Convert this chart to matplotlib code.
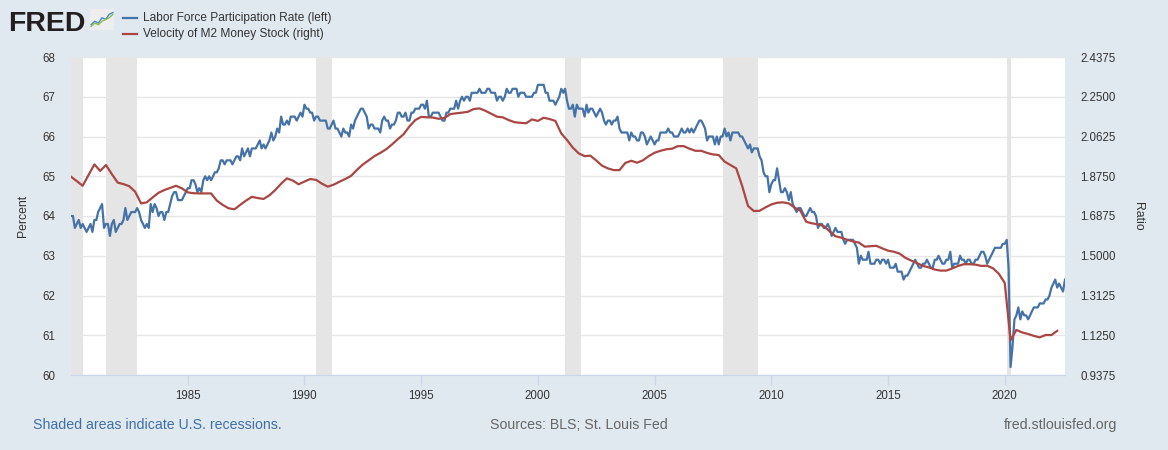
import matplotlib
matplotlib.use('Agg')
import matplotlib.pyplot as plt
import matplotlib.dates as mdates
import pandas as pd

plt.rcParams['font.family'] = ['Liberation Sans', 'DejaVu Sans']

# Labor Force Participation Rate, monthly, 1980-01 .. 2022-08 (percent)
lfpr = [
    64.0, 64.0, 63.7, 63.8, 63.9, 63.7, 63.8, 63.7, 63.6, 63.7, 63.8, 63.6,  # 1980
    63.9, 63.9, 64.1, 64.2, 64.3, 63.7, 63.8, 63.8, 63.5, 63.8, 63.9, 63.6,  # 1981
    63.7, 63.8, 63.8, 63.9, 64.2, 63.9, 64.0, 64.1, 64.1, 64.1, 64.2, 64.1,  # 1982
    63.9, 63.8, 63.7, 63.8, 63.7, 64.3, 64.1, 64.3, 64.2, 64.0, 64.1, 64.1,  # 1983
    63.9, 64.1, 64.1, 64.3, 64.5, 64.6, 64.6, 64.4, 64.4, 64.4, 64.5, 64.6,  # 1984
    64.7, 64.7, 64.9, 64.9, 64.8, 64.6, 64.7, 64.6, 64.9, 65.0, 64.9, 65.0,  # 1985
    64.9, 65.0, 65.1, 65.1, 65.2, 65.4, 65.4, 65.3, 65.4, 65.4, 65.4, 65.3,  # 1986
    65.4, 65.5, 65.5, 65.4, 65.7, 65.5, 65.6, 65.7, 65.5, 65.7, 65.7, 65.7,  # 1987
    65.8, 65.9, 65.7, 65.8, 65.7, 65.8, 65.9, 66.1, 65.9, 66.0, 66.2, 66.1,  # 1988
    66.5, 66.3, 66.3, 66.4, 66.3, 66.5, 66.5, 66.5, 66.4, 66.5, 66.6, 66.5,  # 1989
    66.8, 66.7, 66.7, 66.6, 66.6, 66.4, 66.5, 66.5, 66.4, 66.4, 66.4, 66.4,  # 1990
    66.2, 66.2, 66.3, 66.4, 66.2, 66.2, 66.1, 66.0, 66.2, 66.1, 66.1, 66.0,  # 1991
    66.3, 66.2, 66.4, 66.5, 66.6, 66.7, 66.7, 66.6, 66.5, 66.2, 66.3, 66.3,  # 1992
    66.2, 66.2, 66.2, 66.1, 66.4, 66.5, 66.4, 66.4, 66.2, 66.3, 66.3, 66.4,  # 1993
    66.6, 66.6, 66.5, 66.5, 66.6, 66.4, 66.4, 66.6, 66.6, 66.7, 66.7, 66.7,  # 1994
    66.8, 66.8, 66.7, 66.9, 66.5, 66.5, 66.6, 66.6, 66.6, 66.6, 66.5, 66.4,  # 1995
    66.4, 66.6, 66.6, 66.7, 66.7, 66.7, 66.9, 66.7, 66.9, 67.0, 66.9, 67.0,  # 1996
    67.0, 66.9, 67.1, 67.1, 67.1, 67.1, 67.2, 67.1, 67.1, 67.1, 67.2, 67.2,  # 1997
    67.1, 67.1, 67.1, 66.9, 67.0, 67.0, 66.9, 67.0, 67.2, 67.1, 67.1, 67.2,  # 1998
    67.2, 67.2, 67.0, 67.1, 67.1, 67.1, 67.0, 67.0, 67.0, 67.0, 67.1, 67.1,  # 1999
    67.3, 67.3, 67.3, 67.3, 67.1, 67.1, 66.9, 66.9, 66.9, 66.8, 66.9, 67.0,  # 2000
    67.2, 67.1, 67.2, 66.9, 66.7, 66.7, 66.8, 66.5, 66.8, 66.7, 66.7, 66.7,  # 2001
    66.5, 66.8, 66.6, 66.7, 66.7, 66.6, 66.5, 66.6, 66.7, 66.6, 66.4, 66.3,  # 2002
    66.4, 66.4, 66.3, 66.4, 66.4, 66.5, 66.2, 66.1, 66.1, 66.1, 66.1, 65.9,  # 2003
    66.1, 66.0, 66.0, 65.9, 65.9, 66.1, 66.1, 66.0, 65.8, 65.9, 66.0, 65.9,  # 2004
    65.8, 65.9, 65.9, 66.1, 66.1, 66.1, 66.1, 66.2, 66.1, 66.1, 66.0, 66.0,  # 2005
    66.0, 66.1, 66.2, 66.1, 66.1, 66.2, 66.1, 66.2, 66.1, 66.2, 66.3, 66.4,  # 2006
    66.4, 66.3, 66.2, 65.9, 66.0, 66.0, 66.0, 65.8, 66.0, 65.8, 66.0, 66.0,  # 2007
    66.2, 66.0, 66.1, 65.9, 66.1, 66.1, 66.1, 66.1, 66.0, 66.0, 65.9, 65.8,  # 2008
    65.7, 65.8, 65.6, 65.7, 65.7, 65.7, 65.5, 65.4, 65.1, 65.0, 65.0, 64.6,  # 2009
    64.8, 64.9, 64.9, 65.2, 64.9, 64.6, 64.6, 64.7, 64.6, 64.4, 64.6, 64.3,  # 2010
    64.2, 64.1, 64.2, 64.2, 64.1, 64.0, 64.0, 64.1, 64.2, 64.1, 64.1, 64.0,  # 2011
    63.7, 63.8, 63.8, 63.7, 63.7, 63.8, 63.7, 63.5, 63.6, 63.7, 63.6, 63.6,  # 2012
    63.6, 63.4, 63.3, 63.4, 63.4, 63.4, 63.4, 63.3, 63.2, 62.8, 63.0, 62.9,  # 2013
    62.9, 62.9, 63.1, 62.8, 62.8, 62.8, 62.9, 62.9, 62.8, 62.9, 62.9, 62.8,  # 2014
    62.9, 62.7, 62.7, 62.7, 62.8, 62.6, 62.6, 62.6, 62.4, 62.5, 62.5, 62.6,  # 2015
    62.7, 62.8, 62.9, 62.8, 62.7, 62.7, 62.8, 62.8, 62.9, 62.8, 62.7, 62.7,  # 2016
    62.9, 62.9, 63.0, 62.9, 62.8, 62.8, 62.9, 62.9, 63.1, 62.7, 62.8, 62.8,  # 2017
    62.8, 63.0, 62.9, 62.9, 62.8, 62.9, 62.9, 62.8, 62.8, 62.9, 62.9, 63.0,  # 2018
    63.1, 63.1, 63.0, 62.8, 62.9, 63.0, 63.1, 63.2, 63.2, 63.2, 63.2, 63.3,  # 2019
    63.3, 63.4, 62.7, 60.2, 60.7, 61.4, 61.5, 61.7, 61.4, 61.6, 61.5, 61.5,  # 2020
    61.4, 61.5, 61.6, 61.7, 61.7, 61.7, 61.8, 61.8, 61.8, 61.9, 61.9, 62.0,  # 2021
    62.2, 62.3, 62.4, 62.2, 62.3, 62.2, 62.1, 62.4,                          # 2022
]

# Velocity of M2 Money Stock, quarterly, 1980Q1 .. 2022Q2 (ratio)
m2v = [
    1.873, 1.852, 1.830, 1.880,  # 1980
    1.931, 1.900, 1.928, 1.885,  # 1981
    1.845, 1.838, 1.828, 1.802,  # 1982
    1.747, 1.752, 1.775, 1.797,  # 1983
    1.810, 1.820, 1.830, 1.818,  # 1984
    1.799, 1.795, 1.794, 1.794,  # 1985
    1.794, 1.760, 1.740, 1.724,  # 1986
    1.719, 1.740, 1.760, 1.778,  # 1987
    1.772, 1.768, 1.785, 1.810,  # 1988
    1.840, 1.865, 1.855, 1.837,  # 1989
    1.850, 1.862, 1.858, 1.840,  # 1990
    1.826, 1.835, 1.849, 1.862,  # 1991
    1.877, 1.905, 1.930, 1.950,  # 1992
    1.970, 1.985, 2.002, 2.025,  # 1993
    2.050, 2.073, 2.110, 2.140,  # 1994
    2.155, 2.153, 2.152, 2.146,  # 1995
    2.150, 2.168, 2.172, 2.175,  # 1996
    2.179, 2.192, 2.195, 2.184,  # 1997
    2.170, 2.156, 2.153, 2.140,  # 1998
    2.130, 2.127, 2.125, 2.143,  # 1999
    2.136, 2.151, 2.145, 2.136,  # 2000
    2.077, 2.046, 2.010, 1.983,  # 2001
    1.970, 1.972, 1.950, 1.925,  # 2002
    1.912, 1.904, 1.904, 1.938,  # 2003
    1.948, 1.939, 1.950, 1.970,  # 2004
    1.986, 1.995, 2.002, 2.005,  # 2005
    2.017, 2.017, 2.005, 1.995,  # 2006
    1.995, 1.985, 1.978, 1.975,  # 2007
    1.944, 1.928, 1.912, 1.830,  # 2008
    1.735, 1.711, 1.712, 1.728,  # 2009
    1.742, 1.750, 1.752, 1.747,  # 2010
    1.727, 1.712, 1.660, 1.653,  # 2011
    1.648, 1.640, 1.615, 1.592,  # 2012
    1.585, 1.575, 1.568, 1.562,  # 2013
    1.543, 1.545, 1.547, 1.535,  # 2014
    1.524, 1.519, 1.510, 1.490,  # 2015
    1.477, 1.465, 1.452, 1.445,  # 2016
    1.435, 1.430, 1.430, 1.440,  # 2017
    1.452, 1.460, 1.460, 1.458,  # 2018
    1.452, 1.453, 1.441, 1.415,  # 2019
    1.372, 1.102, 1.150, 1.138,  # 2020
    1.131, 1.122, 1.115, 1.126,  # 2021
    1.126, 1.146,                # 2022
]

recessions = [
    ('1980-01-01', '1980-07-01'),
    ('1981-07-01', '1982-11-01'),
    ('1990-07-01', '1991-03-01'),
    ('2001-03-01', '2001-11-01'),
    ('2007-12-01', '2009-06-01'),
    ('2020-02-01', '2020-04-01'),
]

left_ticks = [60, 61, 62, 63, 64, 65, 66, 67, 68]
right_ticks = [0.9375, 1.125, 1.3125, 1.5, 1.6875, 1.875, 2.0625, 2.25, 2.4375]
year_ticks = [1985, 1990, 1995, 2000, 2005, 2010, 2015, 2020]

months = pd.date_range('1980-01-01', periods=len(lfpr), freq='MS')
quarters = pd.date_range('1980-01-01', periods=len(m2v), freq='QS')

bg = '#e1e9f0'
txt = '#333333'

fig = plt.figure(figsize=(11.68, 4.5), dpi=100, facecolor=bg)
ax = fig.add_axes([71 / 1168, 75 / 450, 994 / 1168, 318 / 450])
ax.set_facecolor('white')

for start, end in recessions:
    ax.axvspan(pd.Timestamp(start), pd.Timestamp(end), color='#e5e5e5', lw=0, zorder=0)

ax.plot(months, lfpr, color='#4572a7', lw=1.6, zorder=3)
ax.set_ylim(60, 68)
ax.set_yticks(left_ticks)
ax.grid(axis='y', color='#e6e6e6', lw=1, zorder=1)
ax.set_xlim(months[0], months[-1])
ax.set_xticks([pd.Timestamp(f'{y}-01-01') for y in year_ticks])
ax.xaxis.set_major_formatter(mdates.DateFormatter('%Y'))

ax2 = ax.twinx()
ax2.plot(quarters, m2v, color='#aa4643', lw=1.6, zorder=3)
ax2.set_ylim(0.9375, 2.4375)
ax2.set_yticks(right_ticks)
ax2.set_yticklabels([f'{v:.4f}' for v in right_ticks])

for a in (ax, ax2):
    for side in ('top', 'left', 'right'):
        a.spines[side].set_visible(False)
    a.spines['bottom'].set_color('#ccd6eb')
    a.tick_params(axis='y', length=0, pad=11, labelsize=8.3, labelcolor=txt)
ax.tick_params(axis='x', length=7, width=1, color='#ccd6eb', pad=4, labelsize=8.3, labelcolor=txt)

ax.set_ylabel('Percent', fontsize=8.8, color=txt, labelpad=10)
ax2.set_ylabel('Ratio', fontsize=8.8, color=txt, rotation=270, labelpad=20)

# legend / header
fig.text(8 / 1168, 1 - 31 / 450, 'FRED', fontsize=20.5, fontweight='bold', color='#231f20')
icon = fig.add_axes([90 / 1168, 1 - 30 / 450, 24 / 1168, 21 / 450])
icon.set_facecolor('#eeeeee')
icon.set_xticks([])
icon.set_yticks([])
for s in icon.spines.values():
    s.set_visible(False)
icon_blue = [1, 3, 2, 5, 4, 7, 8]
icon_green = [0, 2, 1, 3, 4, 5, 7]
icon.plot(icon_blue, color='#4a86c5', lw=1)
icon.plot(icon_green, color='#8bbf58', lw=1)
icon.set_ylim(-2, 10)

fig.lines.append(plt.Line2D([123 / 1168, 137 / 1168], [1 - 18 / 450, 1 - 18 / 450],
                            color='#4572a7', lw=1.6, transform=fig.transFigure))
fig.lines.append(plt.Line2D([123 / 1168, 137 / 1168], [1 - 34 / 450, 1 - 34 / 450],
                            color='#aa4643', lw=1.6, transform=fig.transFigure))
fig.text(143 / 1168, 1 - 18 / 450, 'Labor Force Participation Rate (left)', fontsize=8.6,
         color=txt, va='center')
fig.text(143 / 1168, 1 - 34 / 450, 'Velocity of M2 Money Stock (right)', fontsize=8.6,
         color=txt, va='center')

# footer
fig.text(33 / 1168, 1 - 425 / 450, 'Shaded areas indicate U.S. recessions.', fontsize=10.2,
         color='#3d6fa8', va='center')
fig.text(579 / 1168, 1 - 425 / 450, 'Sources: BLS; St. Louis Fed', fontsize=10.2,
         color='#666666', va='center', ha='center')
fig.text(1117 / 1168, 1 - 425 / 450, 'fred.stlouisfed.org', fontsize=10.2,
         color='#666666', va='center', ha='right')

fig.savefig('out.png', dpi=100, facecolor=bg)
